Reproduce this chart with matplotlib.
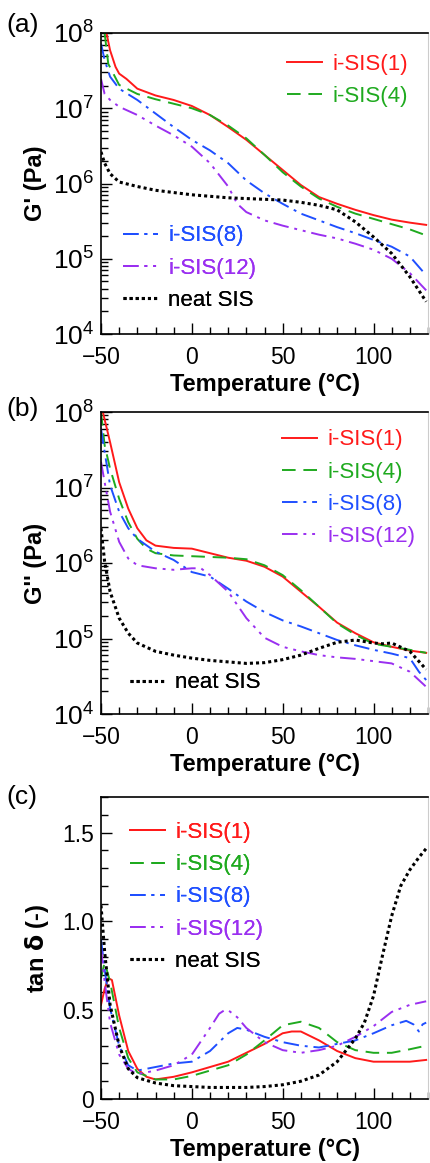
import numpy as np
import matplotlib
matplotlib.use("Agg")
import matplotlib.pyplot as plt
from matplotlib.ticker import LogLocator, MultipleLocator, NullFormatter

plt.rcParams['font.family'] = ['Liberation Sans', 'DejaVu Sans']
plt.rcParams['mathtext.default'] = 'regular'

# ---- data (temperature in degC) ----
names = ["i-SIS(1)", "i-SIS(4)", "i-SIS(8)", "i-SIS(12)", "neat SIS"]
colors = ["#ff1a1a", "#1faa1f", "#1f4fff", "#9a2ff0", "black"]

# (a) storage modulus, log10(G' / Pa)
ga_T = {
    "i-SIS(1)": [-47, -45, -42, -40, -36, -30, -20, -10, 0, 10, 20, 30, 40, 50, 60, 70, 80, 90, 100, 110, 120, 129],
    "i-SIS(4)": [-48, -46, -40, -30, -20, -10, 0, 10, 20, 30, 40, 50, 60, 70, 80, 90, 100, 110, 120, 129],
    "i-SIS(8)": [-50, -48, -45, -40, -30, -20, -10, 0, 10, 20, 30, 40, 50, 60, 70, 80, 90, 100, 110, 120, 129],
    "i-SIS(12)": [-50, -48, -45, -40, -30, -20, -10, 0, 10, 20, 25, 30, 40, 50, 60, 70, 80, 90, 100, 110, 120, 129],
    "neat SIS": [-50, -48, -45, -40, -30, -20, -10, 0, 10, 20, 30, 40, 50, 60, 70, 80, 90, 100, 110, 120, 129],
}
ga_log = {
    "i-SIS(1)": [8.0, 7.77, 7.55, 7.46, 7.39, 7.26, 7.17, 7.11, 7.03, 6.91, 6.75, 6.58, 6.38, 6.18, 5.98, 5.82, 5.73, 5.65, 5.58, 5.52, 5.48, 5.45],
    "i-SIS(4)": [8.0, 7.59, 7.31, 7.19, 7.12, 7.06, 7.0, 6.91, 6.77, 6.60, 6.38, 6.15, 5.96, 5.80, 5.69, 5.60, 5.53, 5.46, 5.39, 5.31],
    "i-SIS(8)": [7.86, 7.64, 7.42, 7.26, 7.11, 6.93, 6.75, 6.58, 6.44, 6.27, 6.04, 5.87, 5.73, 5.60, 5.51, 5.42, 5.34, 5.25, 5.16, 5.03, 4.78],
    "i-SIS(12)": [7.39, 7.19, 7.11, 7.02, 6.91, 6.77, 6.64, 6.49, 6.27, 5.96, 5.73, 5.62, 5.51, 5.44, 5.38, 5.32, 5.27, 5.20, 5.12, 5.00, 4.81, 4.58],
    "neat SIS": [6.42, 6.27, 6.13, 6.02, 5.96, 5.91, 5.88, 5.85, 5.83, 5.81, 5.80, 5.79, 5.78, 5.75, 5.71, 5.65, 5.49, 5.29, 5.07, 4.76, 4.43],
}

# (b) loss modulus, log10(G'' / Pa)
gb_T = {
    "i-SIS(1)": [-49, -45, -40, -35, -30, -25, -20, -10, 0, 10, 20, 30, 40, 50, 60, 70, 80, 90, 100, 110, 120, 129],
    "i-SIS(4)": [-50, -48, -45, -40, -35, -30, -25, -20, -10, 0, 10, 20, 30, 40, 50, 60, 70, 80, 90, 100, 110, 120, 129],
    "i-SIS(8)": [-50, -48, -45, -40, -35, -30, -20, -10, 0, 10, 20, 30, 40, 50, 60, 70, 80, 90, 100, 110, 120, 125, 129],
    "i-SIS(12)": [-50, -48, -45, -40, -35, -30, -20, -10, 0, 5, 10, 20, 30, 40, 50, 60, 70, 80, 90, 100, 110, 120, 129],
    "neat SIS": [-50, -48, -45, -40, -35, -30, -20, -10, 0, 10, 20, 30, 40, 50, 60, 70, 80, 90, 100, 105, 110, 120, 129],
}
gb_log = {
    "i-SIS(1)": [8.0, 7.60, 7.07, 6.72, 6.46, 6.30, 6.23, 6.20, 6.19, 6.13, 6.07, 6.03, 5.95, 5.82, 5.62, 5.42, 5.21, 5.07, 4.95, 4.89, 4.84, 4.81],
    "i-SIS(4)": [8.0, 7.56, 7.25, 6.85, 6.54, 6.32, 6.19, 6.13, 6.10, 6.09, 6.08, 6.07, 6.05, 5.97, 5.84, 5.64, 5.42, 5.20, 5.05, 4.93, 4.89, 4.85, 4.81],
    "i-SIS(8)": [7.78, 7.47, 7.03, 6.68, 6.46, 6.32, 6.15, 6.04, 5.88, 5.82, 5.66, 5.49, 5.35, 5.24, 5.16, 5.07, 4.98, 4.91, 4.85, 4.80, 4.74, 4.56, 4.45],
    "i-SIS(12)": [7.34, 7.07, 6.68, 6.28, 6.06, 5.97, 5.93, 5.91, 5.93, 5.93, 5.84, 5.62, 5.27, 5.01, 4.89, 4.83, 4.78, 4.75, 4.73, 4.70, 4.67, 4.56, 4.36],
    "neat SIS": [6.46, 6.02, 5.62, 5.27, 5.07, 4.94, 4.83, 4.78, 4.74, 4.71, 4.69, 4.67, 4.68, 4.72, 4.78, 4.87, 4.95, 4.98, 4.94, 4.93, 4.94, 4.83, 4.59],
}

# (c) loss factor tan delta
tc_T = {
    "i-SIS(1)": [-50, -48, -46, -44, -40, -35, -30, -25, -20, -10, 0, 10, 20, 30, 40, 50, 55, 60, 70, 80, 90, 100, 110, 120, 129],
    "i-SIS(4)": [-50, -48, -45, -40, -35, -30, -20, -10, 0, 10, 20, 30, 40, 50, 60, 70, 80, 90, 100, 110, 120, 129],
    "i-SIS(8)": [-50, -48, -45, -40, -35, -30, -20, -10, 0, 10, 20, 25, 30, 40, 50, 60, 70, 80, 90, 100, 110, 118, 122, 125, 127, 129],
    "i-SIS(12)": [-50, -48, -45, -40, -35, -30, -20, -10, 0, 10, 15, 18, 20, 25, 30, 40, 50, 60, 70, 80, 90, 100, 110, 120, 129],
    "neat SIS": [-50, -48, -45, -40, -35, -30, -20, -10, 0, 10, 20, 30, 40, 50, 60, 70, 80, 90, 95, 100, 105, 110, 115, 120, 125, 129],
}
tc_val = {
    "i-SIS(1)": [0.53, 0.62, 0.68, 0.67, 0.47, 0.27, 0.17, 0.125, 0.11, 0.125, 0.15, 0.18, 0.21, 0.26, 0.31, 0.37, 0.38, 0.38, 0.33, 0.27, 0.23, 0.21, 0.21, 0.21, 0.22],
    "i-SIS(4)": [0.68, 0.77, 0.66, 0.40, 0.23, 0.15, 0.11, 0.11, 0.13, 0.16, 0.19, 0.25, 0.33, 0.415, 0.435, 0.40, 0.32, 0.275, 0.26, 0.26, 0.28, 0.30],
    "i-SIS(8)": [0.90, 0.73, 0.51, 0.30, 0.19, 0.16, 0.18, 0.20, 0.21, 0.27, 0.37, 0.40, 0.39, 0.35, 0.32, 0.30, 0.29, 0.31, 0.33, 0.37, 0.415, 0.44, 0.42, 0.38, 0.42, 0.43],
    "i-SIS(12)": [0.85, 0.66, 0.43, 0.25, 0.17, 0.14, 0.16, 0.19, 0.25, 0.40, 0.48, 0.50, 0.50, 0.46, 0.40, 0.32, 0.275, 0.26, 0.275, 0.30, 0.35, 0.41, 0.49, 0.53, 0.55],
    "neat SIS": [1.09, 0.83, 0.53, 0.30, 0.17, 0.12, 0.09, 0.075, 0.07, 0.065, 0.065, 0.065, 0.07, 0.08, 0.10, 0.135, 0.21, 0.34, 0.43, 0.58, 0.81, 1.03, 1.20, 1.29, 1.36, 1.41],
}

styles = {
    "i-SIS(1)": dict(ls="-", lw=1.4),
    "i-SIS(4)": dict(ls=(0, (7, 4)), lw=1.4),
    "i-SIS(8)": dict(ls=(0, (8, 3, 1.5, 3)), lw=1.4),
    "i-SIS(12)": dict(ls=(0, (8, 3, 1.5, 3, 1.5, 3)), lw=1.4),
    "neat SIS": dict(ls=(0, (1, 1)), lw=2.2),
}

FS = 16
W, H = 430, 1163
fig = plt.figure(figsize=(W / 100, H / 100), dpi=100)


def add_axes(top_px, bot_px):
    left, right = 101, 428
    return fig.add_axes([left / W, 1 - bot_px / H, (right - left) / W, (bot_px - top_px) / H])


def style_x(ax):
    ax.set_xlim(-50, 130)
    ax.xaxis.set_major_locator(MultipleLocator(50))
    ax.xaxis.set_minor_locator(MultipleLocator(10))
    ax.tick_params(axis="both", which="both", direction="in", labelsize=FS + 0.5, top=False, right=False)
    ax.tick_params(axis="x", which="major", length=8, width=1, pad=8.5)
    ax.tick_params(axis="x", which="minor", length=5, width=1)
    ax.tick_params(axis="y", which="major", length=8, width=1, pad=5)
    ax.tick_params(axis="y", which="minor", length=5, width=1)
    ax.set_xlabel("Temperature (\u00b0C)", fontsize=FS + 1, fontweight="bold", labelpad=3)
    for s in ["left", "bottom", "top"]:
        ax.spines[s].set_linewidth(1.2)
    ax.spines["right"].set_color("#cccccc")


def style_log(ax, label):
    ax.set_yscale("log")
    ax.set_ylim(1e4, 1e8)
    ax.yaxis.set_major_locator(LogLocator(base=10, numticks=10))
    ax.yaxis.set_minor_locator(LogLocator(base=10, subs=np.arange(2, 10), numticks=20))
    ax.yaxis.set_minor_formatter(NullFormatter())
    ax.set_ylabel(label, fontsize=FS + 1, fontweight="bold", labelpad=4)
    style_x(ax)
    ax.tick_params(axis="y", labelsize=FS + 3)


def draw(ax, Ts, Ys, log):
    handles = {}
    for name, c in zip(names, colors):
        y = np.array(Ys[name])
        if log:
            y = 10 ** y
        (h,) = ax.plot(Ts[name], y, color=c, **styles[name])
        handles[name] = h
    return handles


def legend(ax, handles, keys, x, y):
    leg = ax.legend([handles[k] for k in keys], keys, loc="center left", bbox_to_anchor=(x, y),
                    frameon=False, fontsize=FS, handlelength=1.6, handletextpad=0.45,
                    labelspacing=0.5, borderpad=0, borderaxespad=0)
    for t, k in zip(leg.get_texts(), keys):
        t.set_color(colors[names.index(k)])
    ax.add_artist(leg)
    return leg


# (a)
ax_a = add_axes(33, 334)
h = draw(ax_a, ga_T, ga_log, True)
style_log(ax_a, "G' (Pa)")
legend(ax_a, h, names[:2], 0.568, 0.842)
legend(ax_a, h, names[2:], 0.067, 0.219)

# (b)
ax_b = add_axes(412, 714)
h = draw(ax_b, gb_T, gb_log, True)
style_log(ax_b, "G'' (Pa)")
legend(ax_b, h, names[:4], 0.553, 0.748)
legend(ax_b, h, names[4:], 0.088, 0.103)

# (c)
ax_c = add_axes(797, 1099)
h = draw(ax_c, tc_T, tc_val, False)
ax_c.set_ylim(0, 1.7)
ax_c.yaxis.set_major_locator(MultipleLocator(0.5))
ax_c.yaxis.set_minor_locator(MultipleLocator(0.1))
ax_c.yaxis.set_major_formatter(plt.FuncFormatter(lambda v, p: "0" if v == 0 else f"{v:.1f}"))
ax_c.set_ylabel("tan $\\mathbf{\\delta}$ (-)", fontsize=FS + 1, fontweight="bold", labelpad=8)
style_x(ax_c)
legend(ax_c, h, names, 0.088, 0.669)

for lbl, yc in [("(a)", 25), ("(b)", 409), ("(c)", 797)]:
    fig.text(6 / W, 1 - yc / H, lbl, fontsize=FS + 3, va="center", ha="left")

fig.savefig("out.png", dpi=100)
